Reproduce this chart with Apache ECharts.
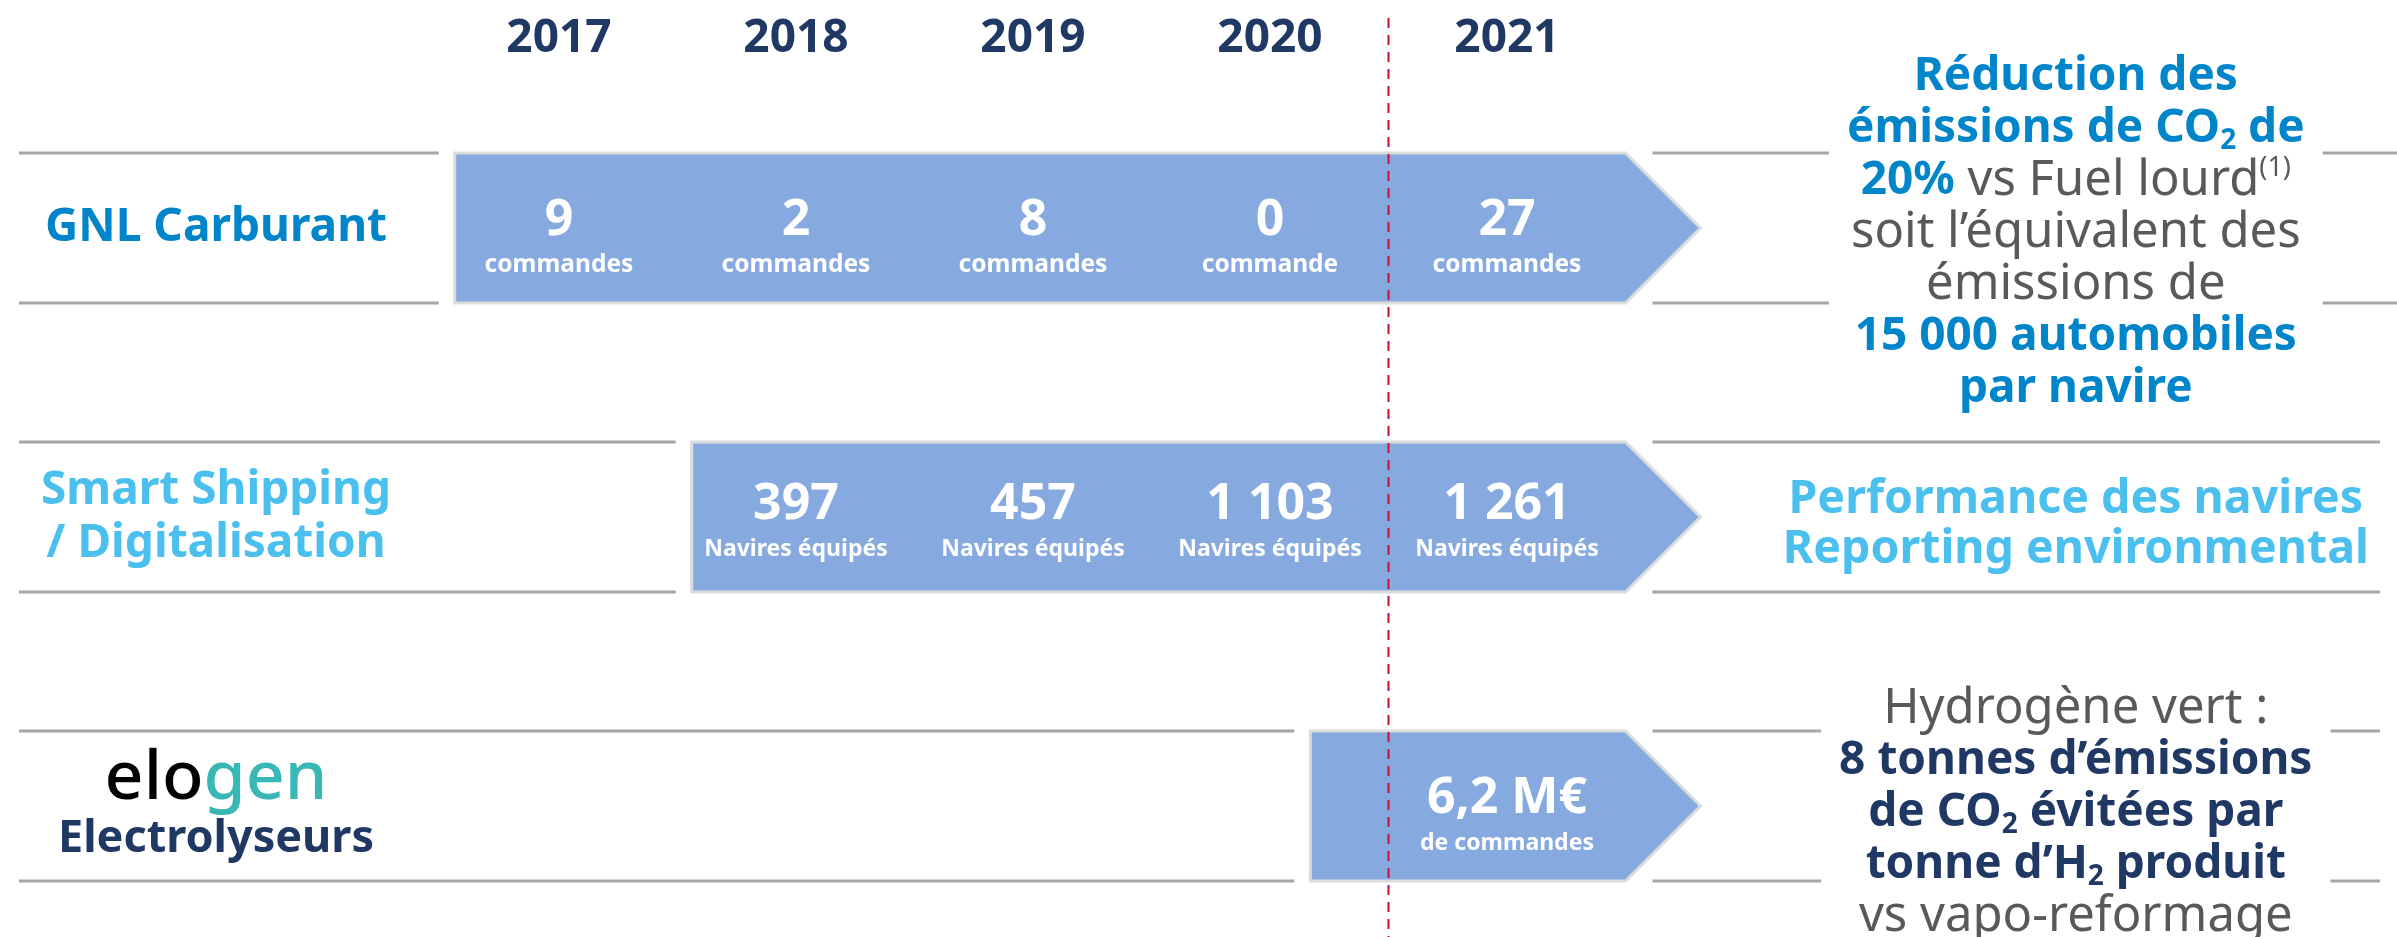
<!DOCTYPE html>
<html>
<head>
    <meta charset="utf-8">
    <title>GNL / Smart Shipping / Elogen</title>
    <script src="https://cdn.jsdelivr.net/npm/echarts@6/dist/echarts.min.js"></script>
    <style>
        html, body { margin: 0; padding: 0; background: #fff; }
        #main { width: 2397px; height: 937px; }
    </style>
</head>
<body>
<div id="main"></div>
<script>
    // --- données ---
    var years = [2017, 2018, 2019, 2020, 2021];
    var rowNames = ['GNL Carburant', 'Smart Shipping / Digitalisation', 'Electrolyseurs'];
    // début / fin de chaque flèche (en années)
    var arrowStart = [2016.56, 2017.56, 2020.17];
    var arrowEnd = [2021.5, 2021.5, 2021.5];
    var dividerYear = 2020.5;

    var gnlYears = [2017, 2018, 2019, 2020, 2021];
    var gnlValues = ['9', '2', '8', '0', '27'];
    var gnlUnits = ['commandes', 'commandes', 'commandes', 'commande', 'commandes'];

    var shipYears = [2018, 2019, 2020, 2021];
    var shipValues = ['397', '457', '1 103', '1 261'];
    var shipUnits = ['Navires équipés', 'Navires équipés', 'Navires équipés', 'Navires équipés'];

    var elogenYears = [2021];
    var elogenValues = ['6,2 M€'];
    var elogenUnits = ['de commandes'];

    var noteX = 2023.4;

    var FONT = '"Noto Sans", sans-serif';
    var NAVY = '#1F3864', BLUE = '#0085CA', LIGHT = '#4BC0EE', GREY = '#595959';

    var chart = echarts.init(document.getElementById('main'));

    function valueSeries(xs, row, vals, units, unitSize, dy) {
        return {
            type: 'scatter', symbolSize: 1, z: 4, silent: true,
            itemStyle: {color: 'rgba(0,0,0,0)', opacity: 1},
            data: xs.map(function (x, i) { return [x, row, vals[i], units[i]]; }),
            label: {
                show: true, position: 'inside', offset: [0, dy],
                formatter: function (p) { return '{v|' + p.data[2] + '}\n{u|' + p.data[3] + '}'; },
                rich: {
                    v: {fontFamily: FONT, fontSize: 50, fontWeight: 'bold', color: '#fff', lineHeight: 56, align: 'center'},
                    u: {fontFamily: FONT, fontSize: unitSize, fontWeight: 'bold', color: '#fff', lineHeight: 32, align: 'center'}
                }
            }
        };
    }

    function renderArrow(params, api) {
        var row = api.value(0);
        var a = api.coord([api.value(1), row]);
        var b = api.coord([api.value(2), row]);
        var cs = params.coordSys;
        var h = 75, tip = 75;
        var yt = a[1] - h, yb = a[1] + h;
        var rightEnd = row === 0 ? cs.x + cs.width : cs.x + cs.width - 17;
        var ls = {stroke: '#A6A6A6', lineWidth: 3};
        var kids = [];
        [yt, yb].forEach(function (y) {
            kids.push({type: 'line', shape: {x1: cs.x + 19, y1: y, x2: a[0] - 16, y2: y}, style: ls});
            kids.push({type: 'line', shape: {x1: b[0] + 27, y1: y, x2: rightEnd, y2: y}, style: ls});
        });
        kids.push({
            type: 'polygon',
            shape: {points: [[a[0], yt], [b[0], yt], [b[0] + tip, a[1]], [b[0], yb], [a[0], yb]]},
            style: {fill: '#86AAE0', stroke: '#DCDCDC', lineWidth: 3}
        });
        return {type: 'group', children: kids};
    }

    var noteTexts = [
        '{b|Réduction des}\n{b|émissions de CO}{bs|2}{b| de}\n{b|20%}{n| vs Fuel lourd}{sup|(1)}\n' +
        '{n|soit l\u2019équivalent des}\n{n|émissions de}\n{b|15 000 automobiles}\n{b|par navire}',
        '{l|Performance des navires}\n{l|Reporting environmental}',
        '{n|Hydrogène vert :}\n{d|8 tonnes d\u2019émissions}\n{d|de CO}{ds|2}{d| évitées par}\n' +
        '{d|tonne d\u2019H}{ds|2}{d| produit}\n{n|vs vapo-reformage}'
    ];
    var noteShift = [5, 8, 7];

    var noteRich = {
        b: {fontFamily: FONT, fontSize: 46, fontWeight: 'bold', color: BLUE, lineHeight: 52},
        bs: {fontFamily: FONT, fontSize: 28, fontWeight: 'bold', color: BLUE, lineHeight: 20, verticalAlign: 'bottom'},
        n: {fontFamily: FONT, fontSize: 49, color: GREY, lineHeight: 52},
        sup: {fontFamily: FONT, fontSize: 27, color: GREY, lineHeight: 20, verticalAlign: 'top'},
        l: {fontFamily: FONT, fontSize: 46.5, fontWeight: 'bold', color: LIGHT, lineHeight: 50},
        d: {fontFamily: FONT, fontSize: 46, fontWeight: 'bold', color: NAVY, lineHeight: 52},
        ds: {fontFamily: FONT, fontSize: 28, fontWeight: 'bold', color: NAVY, lineHeight: 20, verticalAlign: 'bottom'}
    };

    chart.setOption({
        animation: false,
        backgroundColor: '#fff',
        grid: {left: 0, right: 0, top: 78, bottom: 0},
        xAxis: {
            type: 'value', position: 'top',
            min: 2014.6414, max: 2024.7553,
            axisLine: {show: false}, axisTick: {show: false}, splitLine: {show: false},
            axisLabel: {
                customValues: years, margin: 16,
                fontFamily: FONT, fontSize: 46, fontWeight: 'bold', color: NAVY,
                formatter: function (v) { return String(v); }
            }
        },
        yAxis: {
            type: 'value', inverse: true,
            min: -0.519, max: 2.4533,
            axisLine: {show: false}, axisTick: {show: false}, splitLine: {show: false},
            axisLabel: {
                customValues: [0, 1, 2], inside: true, margin: 216, align: 'center',
                formatter: function (v) {
                    if (v === 0) return '{g|' + rowNames[0] + '}';
                    if (v === 1) return '{s|Smart Shipping}\n{s|/ Digitalisation}';
                    return '{e1|elo}{e2|gen}\n{e|' + rowNames[2] + '}';
                },
                rich: {
                    g: {fontFamily: FONT, fontSize: 46, fontWeight: 'bold', color: BLUE},
                    s: {fontFamily: FONT, fontSize: 46, fontWeight: 'bold', color: LIGHT, lineHeight: 53},
                    e1: {fontFamily: FONT, fontSize: 68, fontWeight: 500, color: '#000', lineHeight: 66},
                    e2: {fontFamily: FONT, fontSize: 68, fontWeight: 500, color: '#38B7B5', lineHeight: 66},
                    e: {fontFamily: FONT, fontSize: 45, fontWeight: 'bold', color: NAVY, lineHeight: 52}
                }
            }
        },
        series: [
            {
                type: 'custom', z: 2, silent: true,
                renderItem: renderArrow,
                encode: {x: [1, 2], y: 0},
                data: arrowStart.map(function (s, i) { return [i, s, arrowEnd[i]]; })
            },
            valueSeries(gnlYears, 0, gnlValues, gnlUnits, 24.5, 9),
            valueSeries(shipYears, 1, shipValues, shipUnits, 23, 4),
            valueSeries(elogenYears, 2, elogenValues, elogenUnits, 23, 9),
            {
                type: 'scatter', symbolSize: 1, z: 5, silent: true,
                itemStyle: {color: 'rgba(0,0,0,0)', opacity: 1},
                data: noteTexts.map(function (t, i) { return [noteX, i, t, noteShift[i]]; }),
                label: {
                    show: true, position: 'inside',
                    backgroundColor: '#fff', padding: [0, 18],
                    formatter: function (p) { return p.data[2]; },
                    rich: noteRich
                },
                labelLayout: function (p) {
                    return {dy: noteShift[p.dataIndex]};
                }
            },
            {
                type: 'custom', z: 6, silent: true,
                encode: {x: 0, y: 1},
                data: [[dividerYear, 0]],
                renderItem: function (params, api) {
                    var p = api.coord([api.value(0), 0]);
                    var cs = params.coordSys;
                    return {
                        type: 'line',
                        shape: {x1: p[0], y1: cs.y - 60, x2: p[0], y2: cs.y + cs.height},
                        style: {stroke: '#C8102E', lineWidth: 2, lineDash: [10, 7]}
                    };
                }
            }
        ]
    });
</script>
</body>
</html>
